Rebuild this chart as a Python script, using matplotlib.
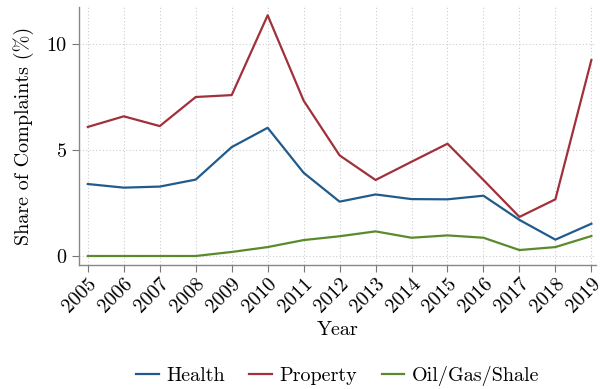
import matplotlib
matplotlib.use("Agg")
import matplotlib.pyplot as plt

plt.rcParams['font.family'] = ['cmr10', 'DejaVu Serif']
plt.rcParams['axes.formatter.use_mathtext'] = True
plt.rcParams['mathtext.fontset'] = 'cm'

years = list(range(2005, 2020))
health = [3.39, 3.22, 3.27, 3.60, 5.13, 6.04, 3.92, 2.56, 2.90, 2.68, 2.67, 2.84, 1.70, 0.77, 1.52]
prop = [6.08, 6.58, 6.12, 7.49, 7.58, 11.34, 7.32, 4.74, 3.58, 4.44, 5.29, 3.58, 1.84, 2.67, 9.23]
oil = [0.0, 0.0, 0.0, 0.0, 0.19, 0.42, 0.75, 0.93, 1.16, 0.86, 0.97, 0.86, 0.28, 0.42, 0.94]

fs = 14.5

fig = plt.figure(figsize=(6, 3.89), dpi=100)
ax = fig.add_axes([0.132, 0.319, 0.862, 0.663])

ax.plot(years, health, color='#215b8c', lw=1.6, label='Health')
ax.plot(years, prop, color='#a0303a', lw=1.6, label='Property')
ax.plot(years, oil, color='#5a8a2c', lw=1.6, label='Oil/Gas/Shale')

ax.set_xlim(2004.76, 2019.14)
ax.set_ylim(-0.42, 11.73)
ax.set_xticks(years)
ax.set_xticklabels([str(y) for y in years], rotation=45, ha='right', rotation_mode='anchor')
ax.set_yticks([0, 5, 10])
ax.set_yticklabels(['0', '5', '10'])
ax.tick_params(labelsize=fs, color='#777777', length=5, width=0.8)
ax.tick_params(axis='x', pad=2)
ax.tick_params(axis='y', pad=4)

ax.grid(True, color='#cccccc', ls=(0, (1, 2)), lw=0.8)
for s in ['top', 'right']:
    ax.spines[s].set_visible(False)
for s in ['left', 'bottom']:
    ax.spines[s].set_color('#888888')
    ax.spines[s].set_linewidth(1.0)

ax.set_xlabel('Year', fontsize=fs, labelpad=4)
ax.set_ylabel('Share of Complaints (%)', fontsize=fs, labelpad=9)

fig.legend(loc='lower center', bbox_to_anchor=(0.563, -0.04), ncol=3, frameon=False,
           fontsize=fs, handlelength=1.1, handletextpad=0.4, columnspacing=1.2)

fig.savefig('out.png', dpi=100)
